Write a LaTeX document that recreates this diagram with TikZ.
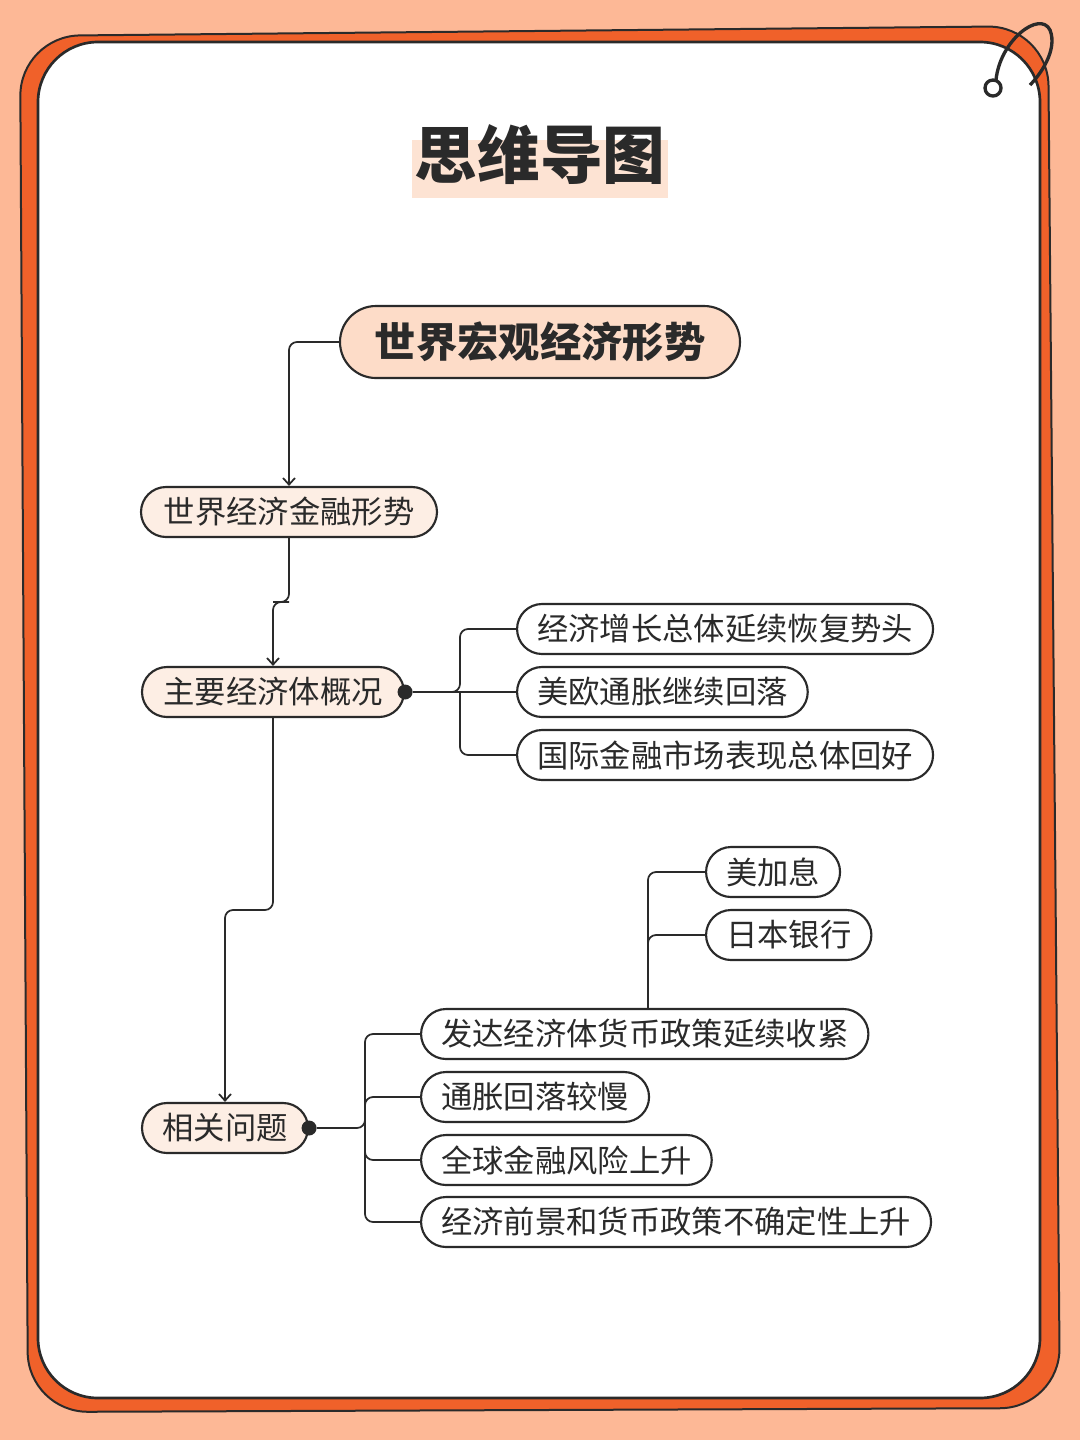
\documentclass[tikz,border=0pt]{standalone}
\usepackage{fontspec}
\setmainfont{Noto Sans CJK SC}
\usetikzlibrary{arrows.meta}
\definecolor{bg}{HTML}{FDB896}
\definecolor{org}{HTML}{F0612A}
\definecolor{ink}{HTML}{2A2A2A}
\definecolor{rootf}{HTML}{FDDCC8}
\definecolor{midf}{HTML}{FDEEE4}
\definecolor{hl}{HTML}{FDE3D3}
\begin{document}
\begin{tikzpicture}[x=0.75pt,y=-0.75pt,
  box/.style={draw=ink,line width=1.6pt,rounded corners=25*0.75pt,minimum height=50*0.75pt,inner xsep=20*0.75pt,font=\fontsize{23.5}{25}\selectfont,text=ink},
  leaf/.style={box,fill=white},
  mid/.style={box,fill=midf},
  con/.style={draw=ink,line width=1.3pt,rounded corners=8*0.75pt},
  arr/.style={con,-{Straight Barb[length=5pt,width=9pt]}},
  dot/.style={circle,fill=ink,inner sep=0pt,minimum size=15*0.75pt}]
\useasboundingbox (0,0) rectangle (1080,1440);
\fill[bg] (0,0) rectangle (1080,1440);
\fill[org,draw=ink,line width=1.5pt,rounded corners=60*0.75pt] (20,36) -- (1048,26) -- (1060,1408) -- (28,1412) -- cycle;
\fill[white,draw=ink,line width=2pt,rounded corners=60*0.75pt] (38,42) rectangle (1040,1398);
\draw[ink,line width=2.5pt] (993,88) circle (8*0.75pt);
\draw[ink,line width=2.5pt] (996,80) .. controls (1000,40) and (1040,10) .. (1050,30) .. controls (1058,50) and (1040,75) .. (1030,85);
\fill[hl] (412,140) rectangle (668,198);
\node[font=\fontsize{47}{50}\selectfont\bfseries,text=ink] (title) at (540,155) {思维导图};
\node[box,fill=rootf,minimum height=72*0.75pt,minimum width=400*0.75pt,rounded corners=36*0.75pt,font=\fontsize{31}{34}\selectfont\bfseries] (root) at (540,342) {世界宏观经济形势};
\node[mid,minimum width=296*0.75pt] (a) at (289,512) {世界经济金融形势};
\node[mid,minimum width=262*0.75pt] (b) at (273,692) {主要经济体概况};
\node[mid,minimum width=166*0.75pt] (c) at (225,1128) {相关问题};
\node[leaf,anchor=west] (b1) at (516,629) {经济增长总体延续恢复势头};
\node[leaf,anchor=west] (b2) at (516,692) {美欧通胀继续回落};
\node[leaf,anchor=west] (b3) at (516,755) {国际金融市场表现总体回好};
\node[leaf,anchor=west] (d1) at (705,872) {美加息};
\node[leaf,anchor=west] (d2) at (705,935) {日本银行};
\node[leaf,anchor=west] (c1) at (420,1034) {发达经济体货币政策延续收紧};
\node[leaf,anchor=west] (c2) at (420,1097) {通胀回落较慢};
\node[leaf,anchor=west] (c3) at (420,1160) {全球金融风险上升};
\node[leaf,anchor=west] (c4) at (420,1222) {经济前景和货币政策不确定性上升};
\draw[arr] (root.west) -| (a.north);
\draw[arr] (a.south) |- (281,602) -| (b.north);
\draw[arr] (b.south) |- (250,910) -| (c.north);
\node[dot] (bd) at (b.east) {};
\node[dot] (cd) at (c.east) {};
\draw[con] (bd) -- (460,692) |- (b1.west);
\draw[con] (bd) -- (b2.west);
\draw[con] (460,692) |- (b3.west);
\draw[con] (cd) -- (365,1128) |- (c1.west);
\draw[con] (365,1128) |- (c2.west);
\draw[con] (365,1128) |- (c3.west);
\draw[con] (365,1128) |- (c4.west);
\draw[con] (c1.north -| 648,0) |- (d1.west);
\draw[con] (648,950) |- (d2.west);
\end{tikzpicture}
\end{document}
